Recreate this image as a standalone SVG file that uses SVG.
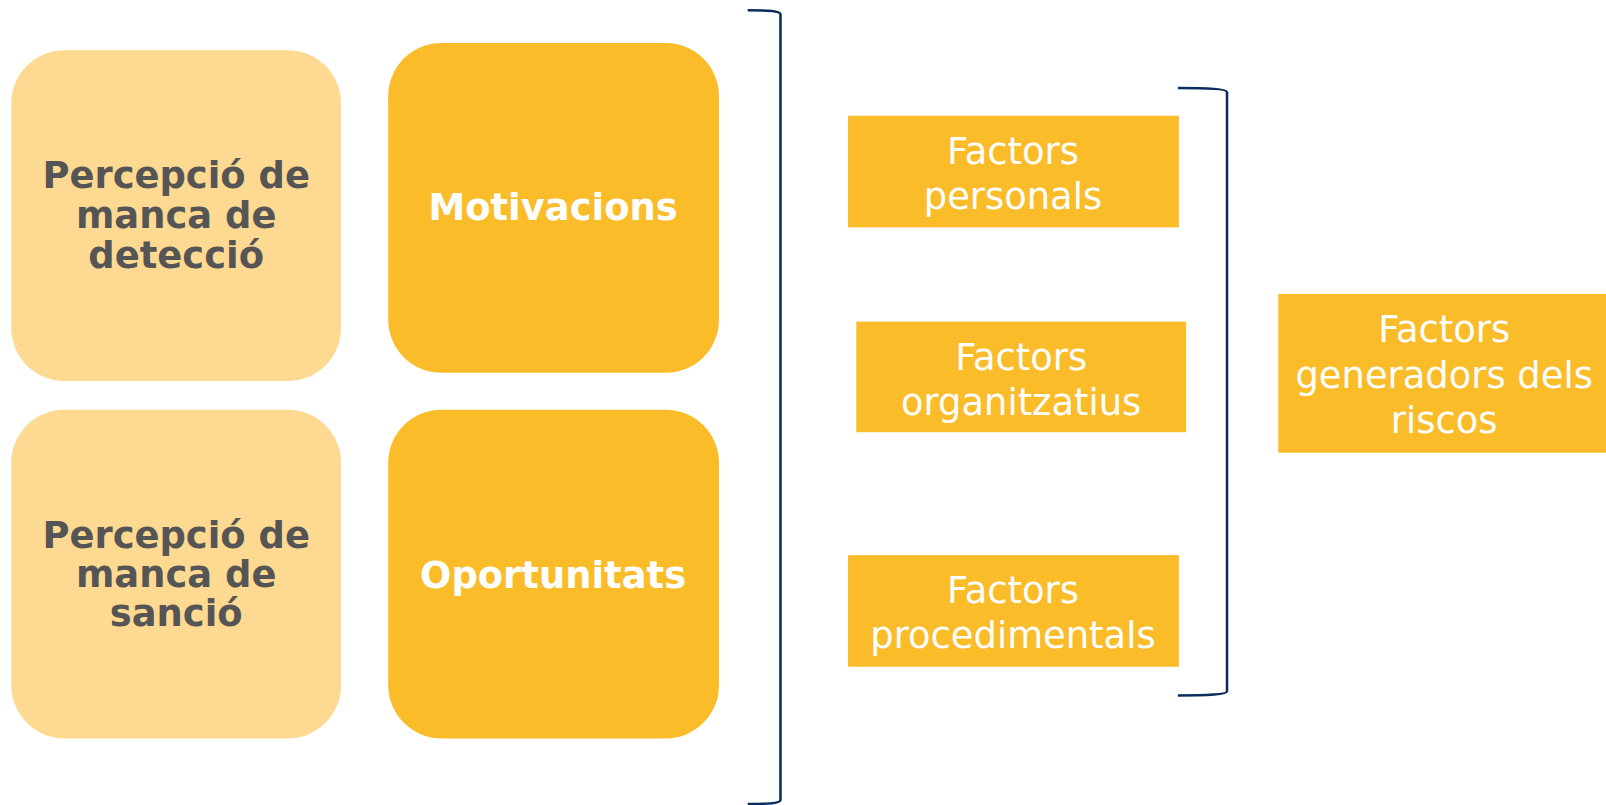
<svg xmlns="http://www.w3.org/2000/svg" width="1606" height="805" viewBox="0 0 1606 805">
<style>
.light{fill:#FED991}
.dark{fill:#FBBC2A}
.bt{font-family:"DejaVu Sans",Verdana,sans-serif;font-weight:bold;font-size:36px;text-anchor:middle}
.g{fill:#555555}
.w{fill:#FFFFFF}
.nt{font-family:"DejaVu Sans",Verdana,sans-serif;font-size:36px;text-anchor:middle;fill:#FFFFFF}
.br{fill:none;stroke:#0A2D5E;stroke-width:2.5}
</style>
<rect width="1606" height="805" fill="#FFFFFF"/>
<g transform="scale(1.02423)">
<g id="n1"><rect class="light" x="11" y="49" width="322" height="323" rx="52"/>
<text class="bt g" x="172" y="184">Percepció de</text><text class="bt g" x="172" y="223">manca de</text><text class="bt g" x="172" y="262">detecció</text></g>
<g id="n2"><rect class="dark" x="379" y="42" width="323" height="322" rx="52"/>
<text class="bt w" x="540" y="215">Motivacions</text></g>
<g id="n3"><rect class="light" x="11" y="400" width="322" height="321" rx="52"/>
<text class="bt g" x="172" y="535">Percepció de</text><text class="bt g" x="172" y="573">manca de</text><text class="bt g" x="172" y="611">sanció</text></g>
<g id="n4"><rect class="dark" x="379" y="400" width="323" height="321" rx="52"/>
<text class="bt w" x="540" y="574">Oportunitats</text></g>
<g id="n5"><rect class="dark" x="828" y="113" width="323" height="109"/>
<text class="nt" x="989" y="160">Factors</text><text class="nt" x="989" y="204">personals</text></g>
<g id="n6"><rect class="dark" x="836" y="314" width="322" height="108"/>
<text class="nt" x="997" y="361">Factors</text><text class="nt" x="997" y="405">organitzatius</text></g>
<g id="n7"><rect class="dark" x="828" y="542" width="323" height="109"/>
<text class="nt" x="989" y="589">Factors</text><text class="nt" x="989" y="633">procedimentals</text></g>
<g id="n8"><rect class="dark" x="1248" y="287" width="360" height="155"/>
<text class="nt" x="1410" y="334">Factors</text><text class="nt" x="1410" y="379">generadors dels</text><text class="nt" x="1410" y="423">riscos</text></g>
<g id="connectors">
<path class="br" d="M730,10 C750,10 762,11 762,14 L762,781 C762,784 750,785 730,785"/>
<path class="br" d="M1150,86 C1180,86 1198,87 1198,90 L1198,675 C1198,678 1180,679 1150,679"/>
</g>
</g>
</svg>
